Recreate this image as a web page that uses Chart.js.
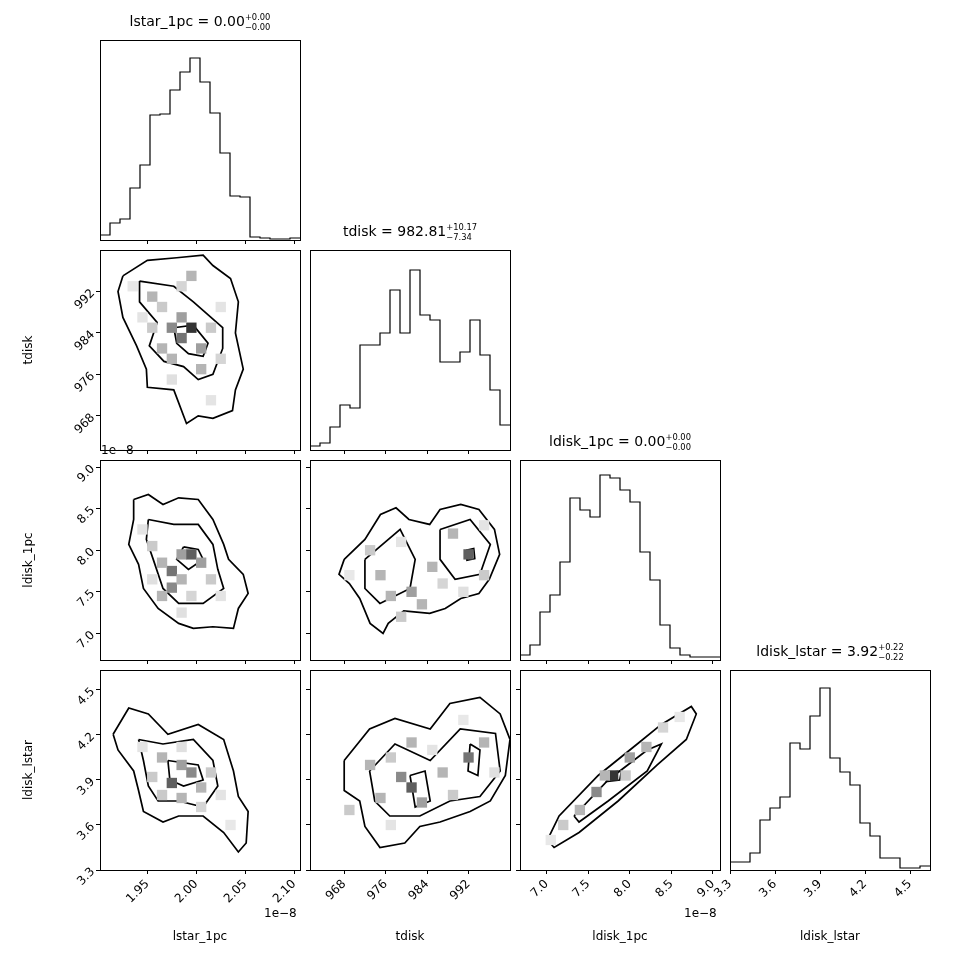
<!DOCTYPE html>
<html>
<head>
<meta charset="utf-8">
<script src="https://cdn.jsdelivr.net/npm/chart.js@4.4.0/dist/chart.umd.min.js"></script>
<style>
  body { margin: 0; background: #fff; font-family: "DejaVu Sans", sans-serif; }
  #wrap { position: relative; width: 970px; height: 970px; }
  .panel { position: absolute; width: 310px; height: 330px; }
  .ttl { position: absolute; width: 260px; text-align: center; font-size: 14px; color: #000; white-space: nowrap; }
  .ss { display: inline-block; vertical-align: middle; line-height: 9px; font-size: 10px; text-align: left; }
  .off { position: absolute; font-size: 12px; color: #000; }
</style>
</head>
<body>
<div id="wrap"></div>
<script>
// axis names and ranges (lstar_1pc and ldisk_1pc are in units of 1e-8)
const names = ['lstar_1pc', 'tdisk', 'ldisk_1pc', 'ldisk_lstar'];
const ranges = [[1.9016, 2.106], [961.4, 1000.0], [6.68, 9.085], [3.3, 4.633]];
const tickVals = [[1.95, 2.00, 2.05, 2.10], [968, 976, 984, 992], [7.0, 7.5, 8.0, 8.5, 9.0], [3.3, 3.6, 3.9, 4.2, 4.5]];
const tickLabels = [['1.95', '2.00', '2.05', '2.10'], ['968', '976', '984', '992'], ['7.0', '7.5', '8.0', '8.5', '9.0'], ['3.3', '3.6', '3.9', '4.2', '4.5']];
const titleVals = [['0.00', '+0.00', '−0.00'], ['982.81', '+10.17', '−7.34'], ['0.00', '+0.00', '−0.00'], ['3.92', '+0.22', '−0.22']];

// 1D histogram counts (20 bins over each range)
const histLstar = [5, 17, 21, 52, 75, 125, 126, 150, 168, 182, 158, 127, 87, 44, 43, 3, 2, 1, 1, 2];
const histTdisk = [4, 7, 23, 45, 42, 105, 105, 117, 160, 117, 180, 135, 130, 88, 88, 98, 130, 95, 60, 25];
const histLdisk1pc = [5, 15, 48, 65, 98, 162, 150, 143, 185, 182, 170, 158, 108, 80, 35, 12, 5, 3, 3, 3];
const histLdiskLstar = [8, 8, 17, 50, 62, 73, 127, 121, 154, 182, 112, 98, 85, 47, 34, 12, 12, 2, 2, 4];
const hists = [histLstar, histTdisk, histLdisk1pc, histLdiskLstar];

// 2D panels: density cells [x, y, level] and contour loops [[x, y], ...]
const cellsLstarTdisk = [[1.975,985,0.5],[1.985,983,0.6],[1.995,985,0.9],[1.985,987,0.4],[1.965,981,0.3],[2.005,981,0.4],[1.975,979,0.3],[1.995,995,0.3],[1.955,991,0.3],[2.015,985,0.2],[1.955,985,0.2],[2.005,977,0.3],[1.965,989,0.2],[1.985,993,0.15],[2.025,979,0.15],[1.945,987,0.08],[2.025,989,0.08],[1.975,975,0.1],[2.015,971,0.08],[1.935,993,0.06]];
const contLstarTdisk = [
  [[1.925,995],[1.95,998],[1.98,998.5],[2.007,999],[2.017,997],[2.035,994.5],[2.043,990],[2.04,984],[2.048,977],[2.04,973],[2.037,969],[2.017,967.5],[2.002,968],[1.99,966.5],[1.977,973],[1.95,973.5],[1.949,977],[1.939,981.5],[1.925,987],[1.92,992],[1.925,995]],
  [[1.942,994],[1.977,993],[1.997,990],[2.027,985],[2.027,981],[2.017,976],[2.002,975],[1.987,977.5],[1.967,978.5],[1.952,981.5],[1.96,986],[1.942,990],[1.942,994]],
  [[1.977,985],[1.997,985.5],[2.012,982],[2.007,979.5],[1.992,980],[1.98,982],[1.977,985]]
];
const cellsLstarLdisk1pc = [[1.975,7.75,0.6],[1.975,7.55,0.5],[1.985,7.95,0.4],[1.995,7.95,0.7],[2.005,7.85,0.4],[1.965,7.85,0.3],[1.985,7.65,0.3],[1.955,8.05,0.2],[2.015,7.65,0.2],[1.965,7.45,0.3],[1.995,7.45,0.15],[1.945,8.25,0.08],[2.025,7.45,0.08],[1.985,7.25,0.1],[1.955,7.65,0.1]];
const contLstarLdisk1pc = [
  [[1.936,8.61],[1.951,8.67],[1.966,8.55],[1.982,8.63],[2.002,8.61],[2.017,8.37],[2.028,8.07],[2.033,7.89],[2.048,7.71],[2.053,7.48],[2.043,7.30],[2.038,7.06],[2.017,7.08],[1.997,7.06],[1.982,7.12],[1.961,7.30],[1.946,7.54],[1.941,7.83],[1.931,8.07],[1.936,8.37],[1.936,8.61]],
  [[1.951,8.37],[1.977,8.31],[2.002,8.31],[2.017,8.07],[2.022,7.77],[2.028,7.54],[2.007,7.36],[1.982,7.36],[1.966,7.54],[1.956,7.89],[1.949,8.13],[1.951,8.37]],
  [[1.987,8.04],[2.002,8.01],[2.007,7.89],[1.992,7.77],[1.980,7.89],[1.987,8.04]]
];
const cellsTdiskLdisk1pc = [[981,7.5,0.4],[975,7.7,0.3],[992,7.95,0.7],[977,7.45,0.3],[985,7.8,0.3],[973,8.0,0.2],[989,8.2,0.3],[983,7.35,0.3],[995,7.7,0.2],[979,7.2,0.2],[987,7.6,0.15],[979,8.1,0.08],[991,7.5,0.1],[969,7.7,0.06],[995,8.3,0.08]];
const contTdiskLdisk1pc = [
  [[968,7.89],[972,8.13],[975,8.43],[978,8.51],[980.5,8.37],[984.5,8.31],[986.5,8.49],[990.5,8.55],[994,8.49],[997,8.25],[998,7.95],[996,7.65],[994,7.48],[990.5,7.42],[987.5,7.30],[984.5,7.24],[979.5,7.27],[976.5,7.12],[975.5,7.0],[973,7.12],[971,7.42],[969,7.60],[967,7.71],[968,7.89]],
  [[972,7.89],[978.8,8.25],[981.7,7.89],[980.7,7.54],[974.9,7.36],[972,7.54],[972,7.89]],
  [[986.5,8.25],[992.3,8.37],[996.2,8.07],[994.2,7.71],[989.4,7.65],[986.5,7.89],[986.5,8.25]],
  [[991.5,8.0],[993,8.02],[993.2,7.9],[991.7,7.88],[991.5,8.0]]
];
const cellsLstarLdiskLstar = [[1.975,3.88,0.7],[1.985,4.0,0.4],[1.995,3.95,0.5],[1.965,4.05,0.3],[2.005,3.85,0.3],[1.985,3.78,0.3],[1.955,3.92,0.2],[2.015,3.95,0.2],[1.965,3.8,0.2],[2.005,3.72,0.15],[1.945,4.12,0.08],[2.025,3.8,0.08],[1.985,4.12,0.1],[2.035,3.6,0.06]];
const contLstarLdiskLstar = [
  [[1.915,4.205],[1.931,4.38],[1.951,4.34],[1.971,4.205],[2.002,4.27],[2.028,4.17],[2.038,3.96],[2.043,3.79],[2.053,3.69],[2.051,3.48],[2.043,3.42],[2.028,3.55],[2.007,3.66],[1.982,3.66],[1.966,3.62],[1.946,3.69],[1.941,3.83],[1.936,3.96],[1.920,4.10],[1.915,4.205]],
  [[1.941,4.17],[1.966,4.14],[1.997,4.17],[2.017,4.03],[2.022,3.86],[2.007,3.72],[1.982,3.76],[1.961,3.76],[1.951,3.86],[1.946,4.03],[1.941,4.17]],
  [[1.971,4.03],[2.002,4.0],[2.007,3.90],[1.987,3.86],[1.973,3.90],[1.971,4.03]]
];
const cellsTdiskLdiskLstar = [[981,3.85,0.7],[979,3.92,0.5],[983,3.75,0.4],[975,3.78,0.3],[992,4.05,0.6],[987,3.95,0.3],[973,4.0,0.3],[981,4.15,0.3],[995,4.15,0.3],[969,3.7,0.2],[977,4.05,0.2],[989,3.8,0.2],[985,4.1,0.08],[997,3.95,0.1],[977,3.6,0.08],[991,4.3,0.06]];
const contTdiskLdiskLstar = [
  [[968,4.03],[972.9,4.24],[977.8,4.31],[984.6,4.24],[988.4,4.41],[994.2,4.45],[998.1,4.34],[1000,4.17],[999.1,3.93],[996.2,3.76],[992.3,3.69],[986.5,3.62],[982.6,3.59],[979.7,3.48],[974.9,3.45],[972,3.59],[971,3.76],[968,3.83],[968,4.03]],
  [[972.9,3.96],[977.8,4.14],[984.6,4.03],[990.4,4.24],[997.2,4.21],[998.1,3.96],[994.2,3.79],[988.4,3.76],[982.6,3.66],[976.8,3.66],[973.9,3.76],[972.9,3.96]],
  [[980.7,3.93],[983.6,3.96],[984.6,3.76],[981.7,3.72],[980.7,3.93]],
  [[992.3,4.14],[994.2,4.10],[993.8,3.93],[991.9,3.96],[992.3,4.14]]
];
const cellsLdiskLdiskLstar = [[7.8,3.93,0.9],[7.6,3.82,0.5],[8.0,4.05,0.4],[7.4,3.7,0.3],[8.2,4.12,0.3],[7.2,3.6,0.2],[8.4,4.25,0.15],[7.7,3.93,0.3],[7.95,3.93,0.2],[8.6,4.32,0.06],[7.05,3.5,0.06]];
const contLdiskLdiskLstar = [
  [[7.01,3.50],[7.15,3.66],[7.62,3.93],[8.09,4.14],[8.38,4.27],[8.74,4.39],[8.80,4.34],[8.68,4.17],[8.33,4.0],[7.86,3.76],[7.39,3.55],[7.09,3.45],[7.01,3.50]],
  [[7.33,3.66],[7.74,3.90],[8.21,4.10],[8.38,4.14],[8.21,3.96],[7.74,3.76],[7.39,3.62],[7.33,3.66]],
  [[7.75,3.95],[7.9,3.96],[7.88,3.90],[7.72,3.89],[7.75,3.95]]
];
const pairs = {
  '1,0': [cellsLstarTdisk, contLstarTdisk],
  '2,0': [cellsLstarLdisk1pc, contLstarLdisk1pc],
  '2,1': [cellsTdiskLdisk1pc, contTdiskLdisk1pc],
  '3,0': [cellsLstarLdiskLstar, contLstarLdiskLstar],
  '3,1': [cellsTdiskLdiskLstar, contTdiskLdiskLstar],
  '3,2': [cellsLdiskLdiskLstar, contLdiskLdiskLstar]
};

const colLeft = [100, 310, 520, 730];
const rowTop = [40, 250, 460, 670];
const wrap = document.getElementById('wrap');
const FONT = { family: 'DejaVu Sans', size: 12 };

const boxPlugin = {
  id: 'box',
  afterDraw(chart) {
    const a = chart.chartArea, ctx = chart.ctx;
    ctx.save();
    ctx.strokeStyle = '#000';
    ctx.lineWidth = 1;
    ctx.strokeRect(a.left + 0.5, a.top + 0.5, a.right - a.left, a.bottom - a.top);
    ctx.restore();
  }
};

function axis(k, showLabels, title, isX) {
  return {
    type: 'linear',
    min: ranges[k][0],
    max: ranges[k][1],
    afterBuildTicks: s => { s.ticks = tickVals[k].map(v => ({ value: v })); },
    afterFit: s => { if (isX) s.height = 90; else s.width = 100; },
    grid: { drawOnChartArea: false, drawTicks: true, tickLength: 4, color: '#000' },
    border: { display: false },
    ticks: {
      color: '#000', font: FONT, padding: 3,
      maxRotation: 45, minRotation: 45,
      callback: (v, i) => showLabels ? tickLabels[k][i] : ''
    },
    title: { display: !!title, text: title, color: '#000', font: FONT,
      padding: isX ? { top: 0, bottom: 16 } : { top: 22, bottom: 0 } }
  };
}

function makePanel(r, c) {
  const div = document.createElement('div');
  div.className = 'panel';
  div.style.left = (colLeft[c] - 100) + 'px';
  div.style.top = (rowTop[r] - 40) + 'px';
  const cv = document.createElement('canvas');
  cv.width = 310; cv.height = 330;
  cv.style.width = '310px'; cv.style.height = '330px';
  div.appendChild(cv);
  wrap.appendChild(div);

  const bottom = r === 3;
  const xAx = axis(c, bottom, bottom ? names[c] : '', true);
  let datasets, yAx;
  if (r === c) {
    const h = hists[c];
    const lo = ranges[c][0], hi = ranges[c][1], n = h.length;
    const pts = h.map((v, i) => ({ x: lo + i * (hi - lo) / n, y: v }));
    pts.push({ x: hi, y: h[n - 1] });
    datasets = [{ data: pts, showLine: true, stepped: 'before', borderColor: '#000', borderWidth: 1.2, pointRadius: 0 }];
    yAx = { type: 'linear', min: 0, max: 200, afterFit: s => { s.width = 100; }, grid: { display: false }, border: { display: false }, ticks: { display: false } };
  } else {
    const [cells, conts] = pairs[r + ',' + c];
    datasets = [{
      data: cells.map(p => ({ x: p[0], y: p[1], l: p[2] })),
      pointStyle: 'rect', pointRadius: 7.3, borderWidth: 0,
      backgroundColor: ctx => { const l = ctx.raw ? ctx.raw.l : 0; const g = Math.round(245 - l * 215); return `rgb(${g},${g},${g})`; }
    }];
    conts.forEach(loop => datasets.push({
      data: loop.map(p => ({ x: p[0], y: p[1] })),
      showLine: true, borderColor: '#000', borderWidth: 1.7, pointRadius: 0, tension: 0
    }));
    yAx = axis(r, c === 0, c === 0 ? names[r] : '', false);
  }

  new Chart(cv, {
    type: 'scatter',
    data: { datasets },
    options: {
      responsive: false, animation: false, maintainAspectRatio: false, devicePixelRatio: 1,
      layout: { padding: { top: 40, right: 10, left: 0, bottom: 0 } },
      plugins: { legend: { display: false }, tooltip: { enabled: false } },
      scales: { x: xAx, y: yAx }
    },
    plugins: [boxPlugin]
  });
}

for (let r = 0; r < 4; r++) for (let c = 0; c <= r; c++) makePanel(r, c);

// diagonal titles
for (let k = 0; k < 4; k++) {
  const t = document.createElement('div');
  t.className = 'ttl';
  t.style.left = (colLeft[k] - 30) + 'px';
  t.style.top = (rowTop[k] - 28) + 'px';
  t.innerHTML = names[k] + ' = ' + titleVals[k][0] +
    '<span class="ss"><sup style="vertical-align:0">' + titleVals[k][1] + '</sup><br><sub style="vertical-align:0">' + titleVals[k][2] + '</sub></span>';
  wrap.appendChild(t);
}

// offset texts
[[264, 906], [684, 906], [101, 443]].forEach(p => {
  const o = document.createElement('div');
  o.className = 'off';
  o.style.left = p[0] + 'px'; o.style.top = p[1] + 'px';
  o.textContent = '1e−8';
  wrap.appendChild(o);
});
</script>
</body>
</html>
